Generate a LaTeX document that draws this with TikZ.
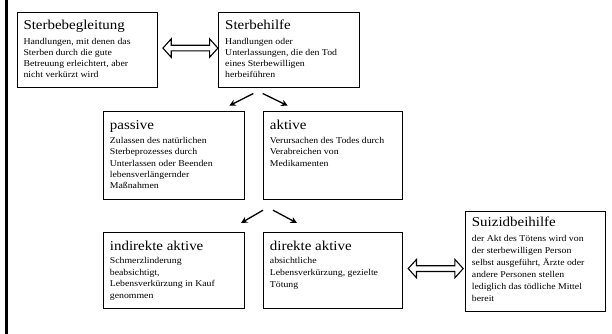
\documentclass[tikz,border=0pt]{standalone}
\usepackage{fontspec}
\setmainfont{Liberation Serif}[FakeStretch=1.1]
\usetikzlibrary{arrows.meta}
\usetikzlibrary{positioning}
\tikzset{kasten/.style = {draw, line width=1.2pt, anchor=north west, inner sep=0}}
\tikzset{titel/.style = {anchor=base west, inner sep=0, font=\fontsize{13.6}{15}\selectfont}}
\tikzset{fliess/.style = {anchor=base west, inner sep=0, font=\fontsize{8.9}{#1}\selectfont}}
\tikzset{pfeil/.style = {-{Stealth[length=6.5pt, width=6.5pt]}, line width=1.3pt}}
\tikzset{doppel/.style = {line width=1.1pt, line join=miter}}

\begin{document}
\begin{tikzpicture}[x=1pt, y=-1pt]
    \useasboundingbox (0,0) rectangle (612,334);
    \draw [line width=2.2pt] (6.5,0) -- (6.5,334);

    % oberste Reihe
    \node [kasten, minimum width=140pt, minimum height=75pt] (begl) at (17,12) {};
    \node [titel] (beglTitel) at ([shift={(6.3pt,-17.3pt)}]begl.north west) {Sterbebegleitung};
    \node [fliess=10.7pt] (beglText) at ([shift={(6.3pt,-33pt)}]begl.north west)
      {\parbox[t]{150pt}{Handlungen, mit denen das\\Sterben durch die gute\\Betreuung erleichtert, aber\\nicht verkürzt wird}};

    \node [kasten, minimum width=141pt, minimum height=75pt] (hilfe) at (218,12) {};
    \node [titel] (hilfeTitel) at ([shift={(7pt,-17.3pt)}]hilfe.north west) {Sterbehilfe};
    \node [fliess=10.7pt] (hilfeText) at ([shift={(7pt,-33pt)}]hilfe.north west)
      {\parbox[t]{150pt}{Handlungen oder\\Unterlassungen, die den Tod\\eines Sterbewilligen\\herbeiführen}};

    \coordinate (beglHilfe) at ([shift={(4.7pt,2pt)}]begl.east);
    \draw [doppel] (beglHilfe) -- ++(8.3,-9.2) -- ++(0,6.35) -- ++(38.4,0) -- ++(0,-6.35)
      -- ++(8.3,9.2) -- ++(-8.3,9.2) -- ++(0,-6.35) -- ++(-38.4,0) -- ++(0,6.35) -- cycle;

    % zweite Reihe
    \node [kasten, minimum width=141pt, minimum height=88pt] (passiv) at (103,111) {};
    \node [titel] (passivTitel) at ([shift={(6.7pt,-18.3pt)}]passiv.north west) {passive};
    \node [fliess=11.4pt] (passivText) at ([shift={(6.7pt,-32.3pt)}]passiv.north west)
      {\parbox[t]{150pt}{Zulassen des natürlichen\\Sterbeprozesses durch\\Unterlassen oder Beenden\\lebensverlängernder\\Maßnahmen}};

    \node [kasten, minimum width=139pt, minimum height=88pt] (aktiv) at (263,111) {};
    \node [titel] (aktivTitel) at ([shift={(6.7pt,-18.3pt)}]aktiv.north west) {aktive};
    \node [fliess=11.4pt] (aktivText) at ([shift={(6.7pt,-32.3pt)}]aktiv.north west)
      {\parbox[t]{150pt}{Verursachen des Todes durch\\Verabreichen von\\Medikamenten}};

    \coordinate (hilfeL) at ([shift={(35.3pt,-5.3pt)}]hilfe.south west);
    \coordinate (hilfeR) at ([shift={(44.7pt,-5.3pt)}]hilfe.south west);
    \coordinate (passivZ) at ([shift={(126.3pt,5.3pt)}]passiv.north west);
    \coordinate (aktivZ) at ([shift={(24.7pt,5.3pt)}]aktiv.north west);
    \draw [pfeil] (hilfeL) -- (passivZ);
    \draw [pfeil] (hilfeR) -- (aktivZ);

    % dritte Reihe
    \node [kasten, minimum width=141pt, minimum height=76pt] (indir) at (103,232) {};
    \node [titel] (indirTitel) at ([shift={(6.7pt,-18.7pt)}]indir.north west) {indirekte aktive};
    \node [fliess=11.8pt] (indirText) at ([shift={(6.7pt,-31.3pt)}]indir.north west)
      {\parbox[t]{150pt}{Schmerzlinderung\\beabsichtigt,\\Lebensverkürzung in Kauf\\genommen}};

    \node [kasten, minimum width=139pt, minimum height=76pt] (direkt) at (263,232) {};
    \node [titel] (direktTitel) at ([shift={(6.7pt,-18.7pt)}]direkt.north west) {direkte aktive};
    \node [fliess=12.3pt] (direktText) at ([shift={(6.7pt,-31.3pt)}]direkt.north west)
      {\parbox[t]{150pt}{absichtliche\\Lebensverkürzung, gezielte\\Tötung}};

    \coordinate (aktivL) at ([shift={(0pt,-10pt)}]aktiv.south west);
    \coordinate (aktivR) at ([shift={(10pt,-10pt)}]aktiv.south west);
    \coordinate (indirZ) at ([shift={(138pt,9pt)}]indir.north west);
    \coordinate (direktZ) at ([shift={(34pt,9pt)}]direkt.north west);
    \draw [pfeil] (aktivL) -- (indirZ);
    \draw [pfeil] (aktivR) -- (direktZ);

    \node [kasten, minimum width=140pt, minimum height=100pt] (suizid) at (465,211) {};
    \node [titel] (suizidTitel) at ([shift={(6.7pt,-15pt)}]suizid.north west) {Suizidbeihilfe};
    \node [fliess=12pt] (suizidText) at ([shift={(6.7pt,-30.7pt)}]suizid.north west)
      {\parbox[t]{150pt}{der Akt des Tötens wird von\\der sterbewilligen Person\\selbst ausgeführt, Ärzte oder\\andere Personen stellen\\lediglich das tödliche Mittel\\bereit}};

    \coordinate (direktSuizid) at ([shift={(5pt,2pt)}]direkt.east);
    \draw [doppel] (direktSuizid) -- ++(8.3,-9.2) -- ++(0,6.35) -- ++(38.4,0) -- ++(0,-6.35)
      -- ++(8.3,9.2) -- ++(-8.3,9.2) -- ++(0,-6.35) -- ++(-38.4,0) -- ++(0,6.35) -- cycle;
\end{tikzpicture}
\end{document}
